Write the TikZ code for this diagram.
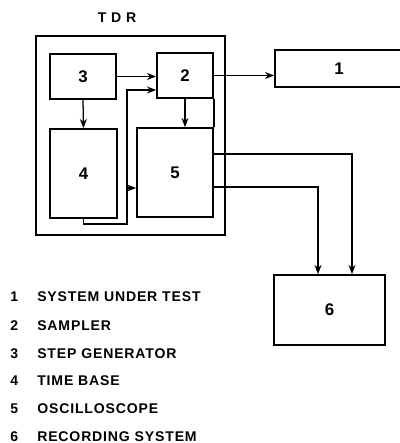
\documentclass[tikz,border=0pt]{standalone}
\usepackage{fontspec}
\setmainfont{Liberation Sans}
\newfontfamily\lblfont[LetterSpace=6]{Liberation Sans}
\usetikzlibrary{arrows.meta,positioning,calc}

\begin{document}
\begin{tikzpicture}[>={Stealth[length=6.5pt,width=5pt]},font=\lblfont\bfseries\normalsize,
  blk/.style={draw,line width=1.3pt,inner sep=0pt,font=\lblfont\bfseries\large},
  link/.style={line width=0.9pt},
  keytext/.style={anchor=west,inner sep=0pt}]
\clip (0,0) rectangle (10,-11.075);
% TDR unit
\node (tdrlabel) at (2.925,-0.45) {T D R};
\node[blk,minimum width=4.725cm,minimum height=4.975cm] (tdr) at (3.2625,-3.3875) {};
\node[blk,minimum width=1.65cm,minimum height=1.125cm] (n3) at (2.075,-1.9125) {3};
\node[blk,minimum width=1.4cm,minimum height=1.125cm] (n2) at (4.625,-1.8875) {2};
\node[blk,minimum width=1.675cm,minimum height=2.225cm] (n4) at (2.0875,-4.3375) {4};
\node[blk,minimum width=1.9cm,minimum height=2.225cm] (n5) at (4.375,-4.3125) {5};
% outside units
\node[blk,minimum width=3.3cm,minimum height=0.925cm] (n1) at (8.525,-1.7125) {\hspace*{-1mm}1};
\node[blk,minimum width=2.775cm,minimum height=1.75cm] (n6) at (8.2375,-7.75) {6};
% connections
\draw[link,->] (n3.east) -- (n3.east -| n2.west);
\draw[link,->] (n3.south) -- (n4.north);
\draw[link,->] (n2.south) -- (n2.south |- n5.north);
\draw[link,->] (n2.east) -- (n2.east -| n1.west);
\draw[link] (n2.south east) -- (n5.north east);
\coordinate (bus) at (3.175,-2.25);
\coordinate (tap) at (3.175,-4.7);
\draw[link,->] (n4.south) -- ++(0,-0.125) -| (bus) -- (bus -| n2.west);
\draw[link,->] (tap) -- (tap -| n5.west);
\draw[link,->] (n5.east |- 0,-3.85) -| (n6.north -| 8.8,0);
\draw[link,->] (n5.east |- 0,-4.675) -| (n6.north -| 7.95,0);
% key
\node[keytext] (k1) at (0.25,-7.425) {1};
\node[keytext] (t1) at (0.925,-7.425) {SYSTEM UNDER TEST};
\node[keytext] (k2) at (0.25,-8.15) {2};
\node[keytext] (t2) at (0.925,-8.15) {SAMPLER};
\node[keytext] (k3) at (0.25,-8.85) {3};
\node[keytext] (t3) at (0.925,-8.85) {STEP GENERATOR};
\node[keytext] (k4) at (0.25,-9.525) {4};
\node[keytext] (t4) at (0.925,-9.525) {TIME BASE};
\node[keytext] (k5) at (0.25,-10.225) {5};
\node[keytext] (t5) at (0.925,-10.225) {OSCILLOSCOPE};
\node[keytext] (k6) at (0.25,-10.925) {6};
\node[keytext] (t6) at (0.925,-10.925) {RECORDING SYSTEM};
\end{tikzpicture}
\end{document}
